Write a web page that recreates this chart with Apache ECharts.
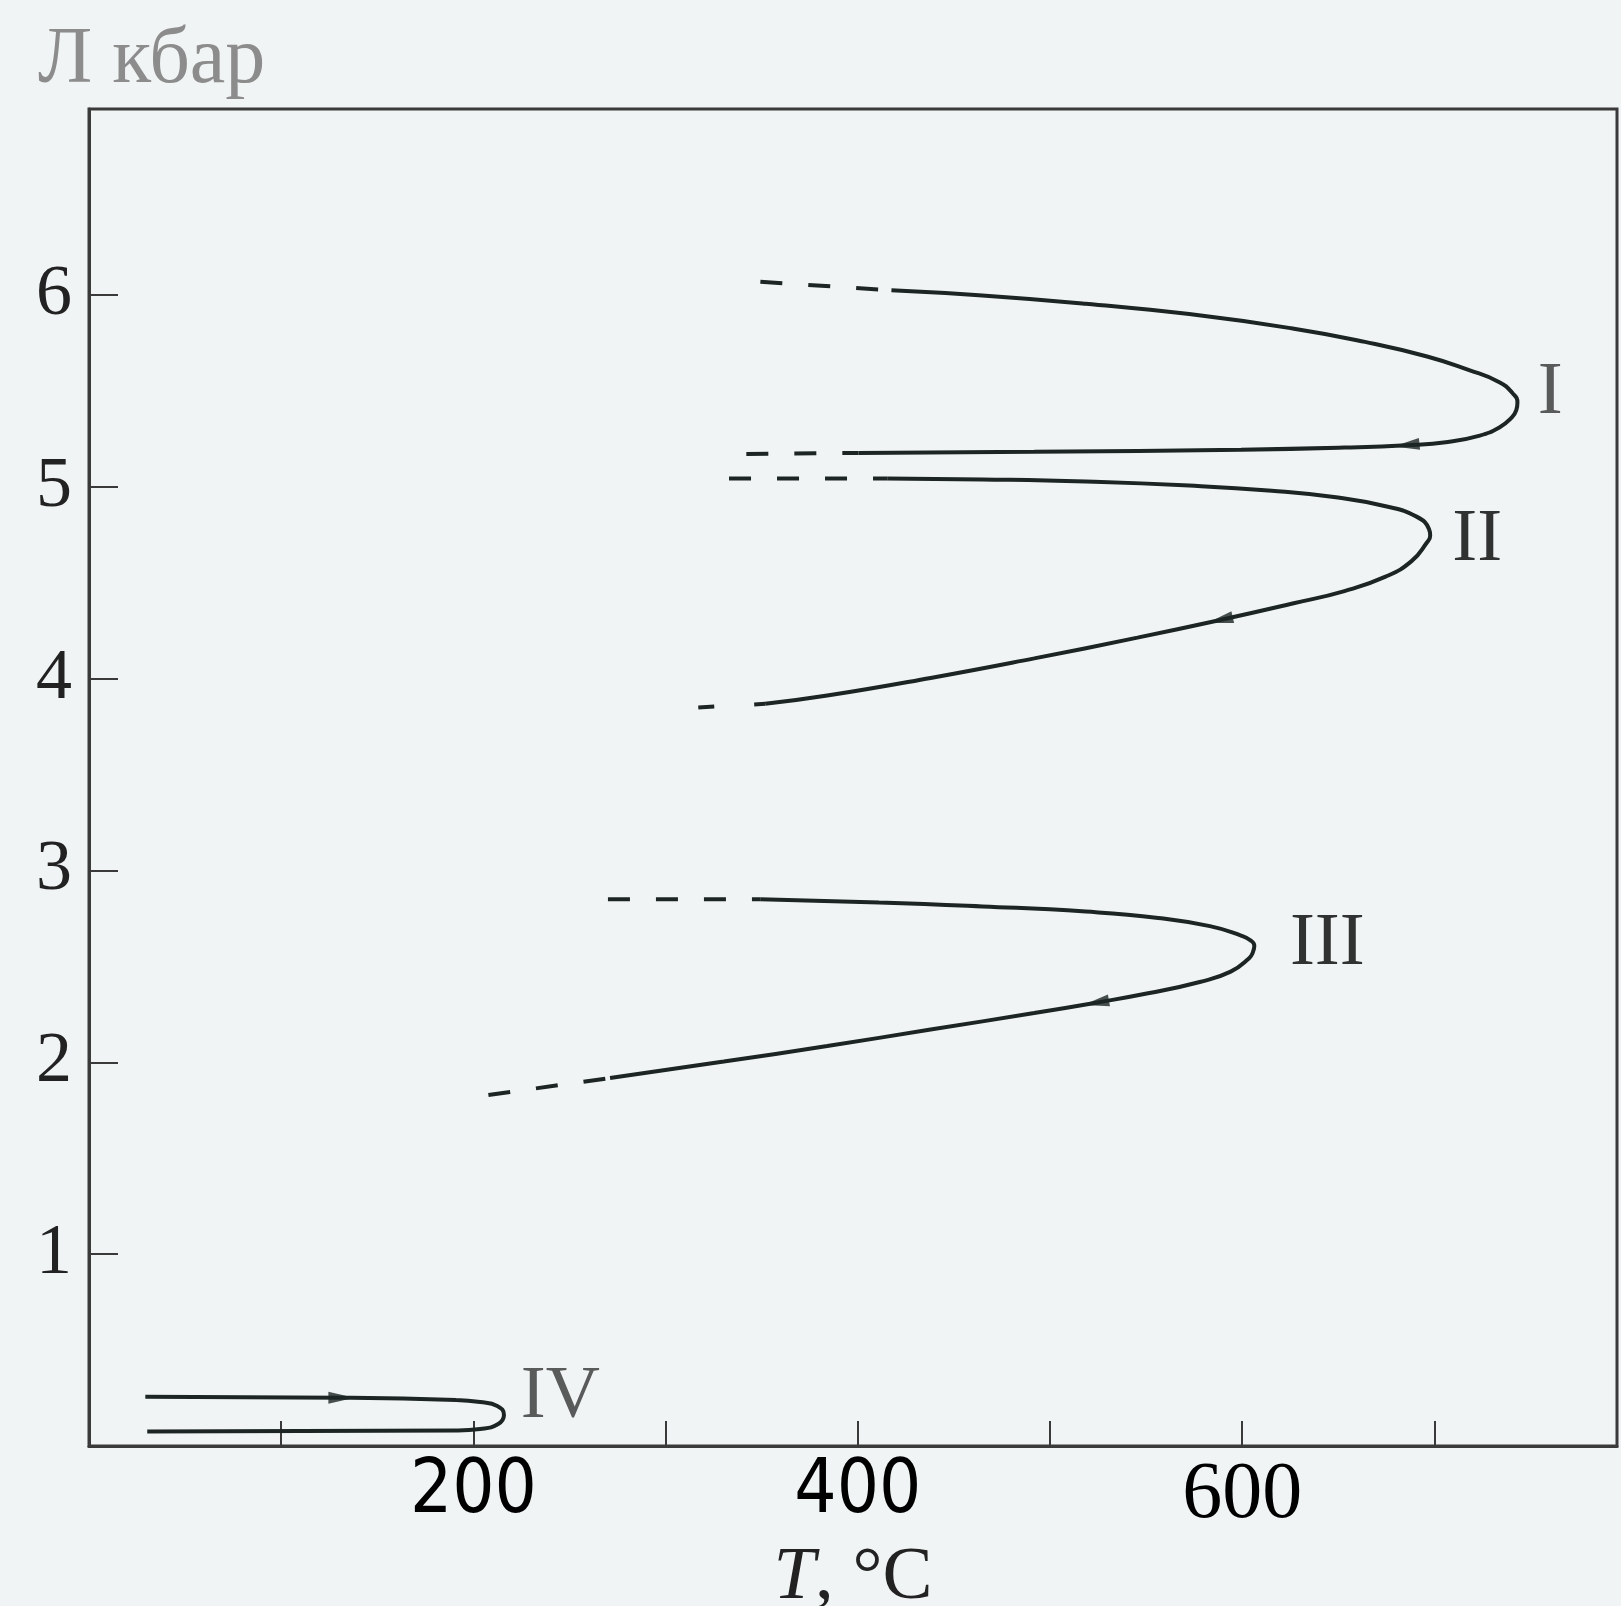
<!DOCTYPE html>
<html>
<head>
<meta charset="utf-8">
<script src="https://cdn.jsdelivr.net/npm/echarts@6/dist/echarts.min.js"></script>
<style>
  html, body { margin: 0; padding: 0; background: #f1f4f5; }
  #chart { width: 1621px; height: 1606px; }
</style>
</head>
<body>
<div id="chart"></div>
<script>
// T, °C  vs  P, kbar
const curveI = [[417.5, 6.025], [464.8, 5.998], [518.6, 5.955], [572.4, 5.901], [626.2, 5.826],
  [663.9, 5.756], [696.2, 5.680], [717.7, 5.610], [733.8, 5.546], [740.8, 5.487], [743.2, 5.440],
  [742.6, 5.400], [740.3, 5.362], [733.8, 5.310], [723.1, 5.266], [707.0, 5.234], [685.5, 5.217],
  [653.2, 5.205], [599.4, 5.194], [491.8, 5.183], [400.3, 5.177]];
const curveIDashTop = [[349.3, 6.069], [417.5, 6.025]];
const curveIDashBottom = [[342.0, 5.172], [400.3, 5.177]];

const curveII = [[415.3, 5.044], [464.8, 5.039], [518.6, 5.028], [572.4, 5.007], [615.4, 4.980],
  [647.7, 4.947], [674.6, 4.899], [690.7, 4.845], [697.2, 4.780], [697.8, 4.745], [696.1, 4.710],
  [688.1, 4.613], [674.6, 4.532], [653.2, 4.457], [626.2, 4.392], [588.5, 4.306], [545.5, 4.214],
  [491.8, 4.106], [437.9, 4.004], [384.1, 3.912], [351.8, 3.869]];
const curveIIDashTop = [[333.0, 5.044], [415.3, 5.044]];
const curveIIDashBottom = [[317.0, 3.850], [351.8, 3.869]];

const curveIII = [[349.2, 2.850], [411.1, 2.834], [464.8, 2.813], [518.6, 2.786], [556.3, 2.753],
  [583.2, 2.710], [599.4, 2.661], [604.5, 2.635], [606.3, 2.608], [605.6, 2.575], [603.6, 2.543],
  [594.0, 2.473], [577.9, 2.419], [551.0, 2.360], [524.0, 2.311], [491.8, 2.257], [437.9, 2.171],
  [384.1, 2.085], [330.3, 2.004], [271.1, 1.918]];
const curveIIIDashTop = [[270.0, 2.850], [349.2, 2.850]];
const curveIIIDashBottom = [[207.8, 1.830], [271.1, 1.918]];

const curveIV = [[29.3, 0.257], [131.3, 0.252], [191.0, 0.240], [203.5, 0.229], [212.4, 0.209],
  [215.9, 0.162], [212.9, 0.115], [203.5, 0.089], [191.0, 0.081], [30.3, 0.075]];

// arrow heads on the curves: [T, P, direction in degrees]
const arrows = [[685.5, 5.217, 96], [588.5, 4.306, 103], [524.0, 2.311, 100], [131.3, 0.252, -90]];

const curveNames = ['I', 'II', 'III', 'IV'];
const curveNamePos = [[760.3, 5.490], [722.3, 4.720], [644.3, 2.615], [245.2, 0.255]];

const xLabels = [200, 400, 600];
const yLabels = [1, 2, 3, 4, 5, 6];

const INK = '#1c2523';
const AXIS = '#3a3a3a';
const SERIF = '"Liberation Serif", "Times New Roman", Times, serif';
const NARROW = '"Liberation Sans Narrow", "Arial Narrow", "DejaVu Sans Condensed", sans-serif';
const nameColors = ['#333', '#000', '#000', '#333'];

function solid(data) {
  return {
    type: 'line', data: data, smooth: 0.5, showSymbol: false, silent: true,
    lineStyle: { color: INK, width: 4 }
  };
}
function dashed(data, dash) {
  return {
    type: 'line', data: data, showSymbol: false, silent: true,
    lineStyle: { color: INK, width: 4, type: dash || [22, 26] }
  };
}

let charts = echarts.init(document.getElementById('chart'));
let option = {
  backgroundColor: '#f1f4f5',
  animation: false,
  title: {
    text: 'Л кбар',
    left: 33,
    top: 16,
    textStyle: {
      fontFamily: SERIF, fontSize: 80, lineHeight: 80,
      fontWeight: 'normal', color: '#8c8c8c'
    }
  },
  grid: {
    left: 89, right: 4, top: 109, bottom: 160,
    outerBoundsMode: 'none',
    show: true, borderColor: AXIS, borderWidth: 3, backgroundColor: 'transparent'
  },
  xAxis: {
    type: 'value', min: 0, max: 795, interval: 100,
    name: '{i|T}{n|, °C}',
    nameLocation: 'middle', nameGap: 89,
    nameTextStyle: {
      rich: {
        i: { fontFamily: SERIF, fontStyle: 'italic', fontSize: 75, color: '#222' },
        n: { fontFamily: SERIF, fontSize: 75, color: '#222' }
      }
    },
    axisLine: { lineStyle: { color: AXIS, width: 3 } },
    axisTick: { inside: true, length: 25, lineStyle: { color: AXIS, width: 2 } },
    axisLabel: {
      margin: 10,
      formatter: function (v) {
        if (xLabels.indexOf(v) === -1) return '';
        return v === 600 ? '{s|' + v + '}' : '{n|' + v + '}';
      },
      rich: {
        n: { fontFamily: NARROW, fontSize: 74, color: '#000' },
        s: { fontFamily: SERIF, fontSize: 80, color: '#000' }
      }
    },
    splitLine: { show: false }
  },
  yAxis: {
    type: 'value', min: 0, max: 6.97, interval: 1,
    axisLine: { lineStyle: { color: AXIS, width: 3 } },
    axisTick: { inside: true, length: 29, lineStyle: { color: AXIS, width: 2 } },
    axisLabel: {
      margin: 17,
      fontFamily: SERIF, fontSize: 72, color: '#222',
      formatter: function (v) { return yLabels.indexOf(v) === -1 ? '' : String(v); }
    },
    splitLine: { show: false }
  },
  series: [
    solid(curveI), dashed(curveIDashTop), dashed(curveIDashBottom),
    solid(curveII), dashed(curveIIDashTop), dashed(curveIIDashBottom, [16, 40]),
    solid(curveIII), dashed(curveIIIDashTop), dashed(curveIIIDashBottom),
    solid(curveIV),
    {
      // arrow heads
      type: 'scatter', silent: true, z: 5,
      symbol: 'triangle', symbolSize: [12, 26],
      itemStyle: { color: INK },
      data: arrows.map(function (a) {
        return { value: [a[0], a[1]], symbolRotate: a[2] };
      })
    },
    {
      // curve numbers I..IV
      type: 'scatter', silent: true, symbolSize: 0,
      data: curveNames.map(function (n, i) {
        return { name: n, value: curveNamePos[i], label: { color: nameColors[i] } };
      }),
      label: {
        show: true, position: 'inside', formatter: '{b}',
        fontFamily: SERIF, fontSize: 75
      }
    }
  ]
};
charts.setOption(option);
window.addEventListener('resize', function () { charts.resize(); });
</script>
</body>
</html>
